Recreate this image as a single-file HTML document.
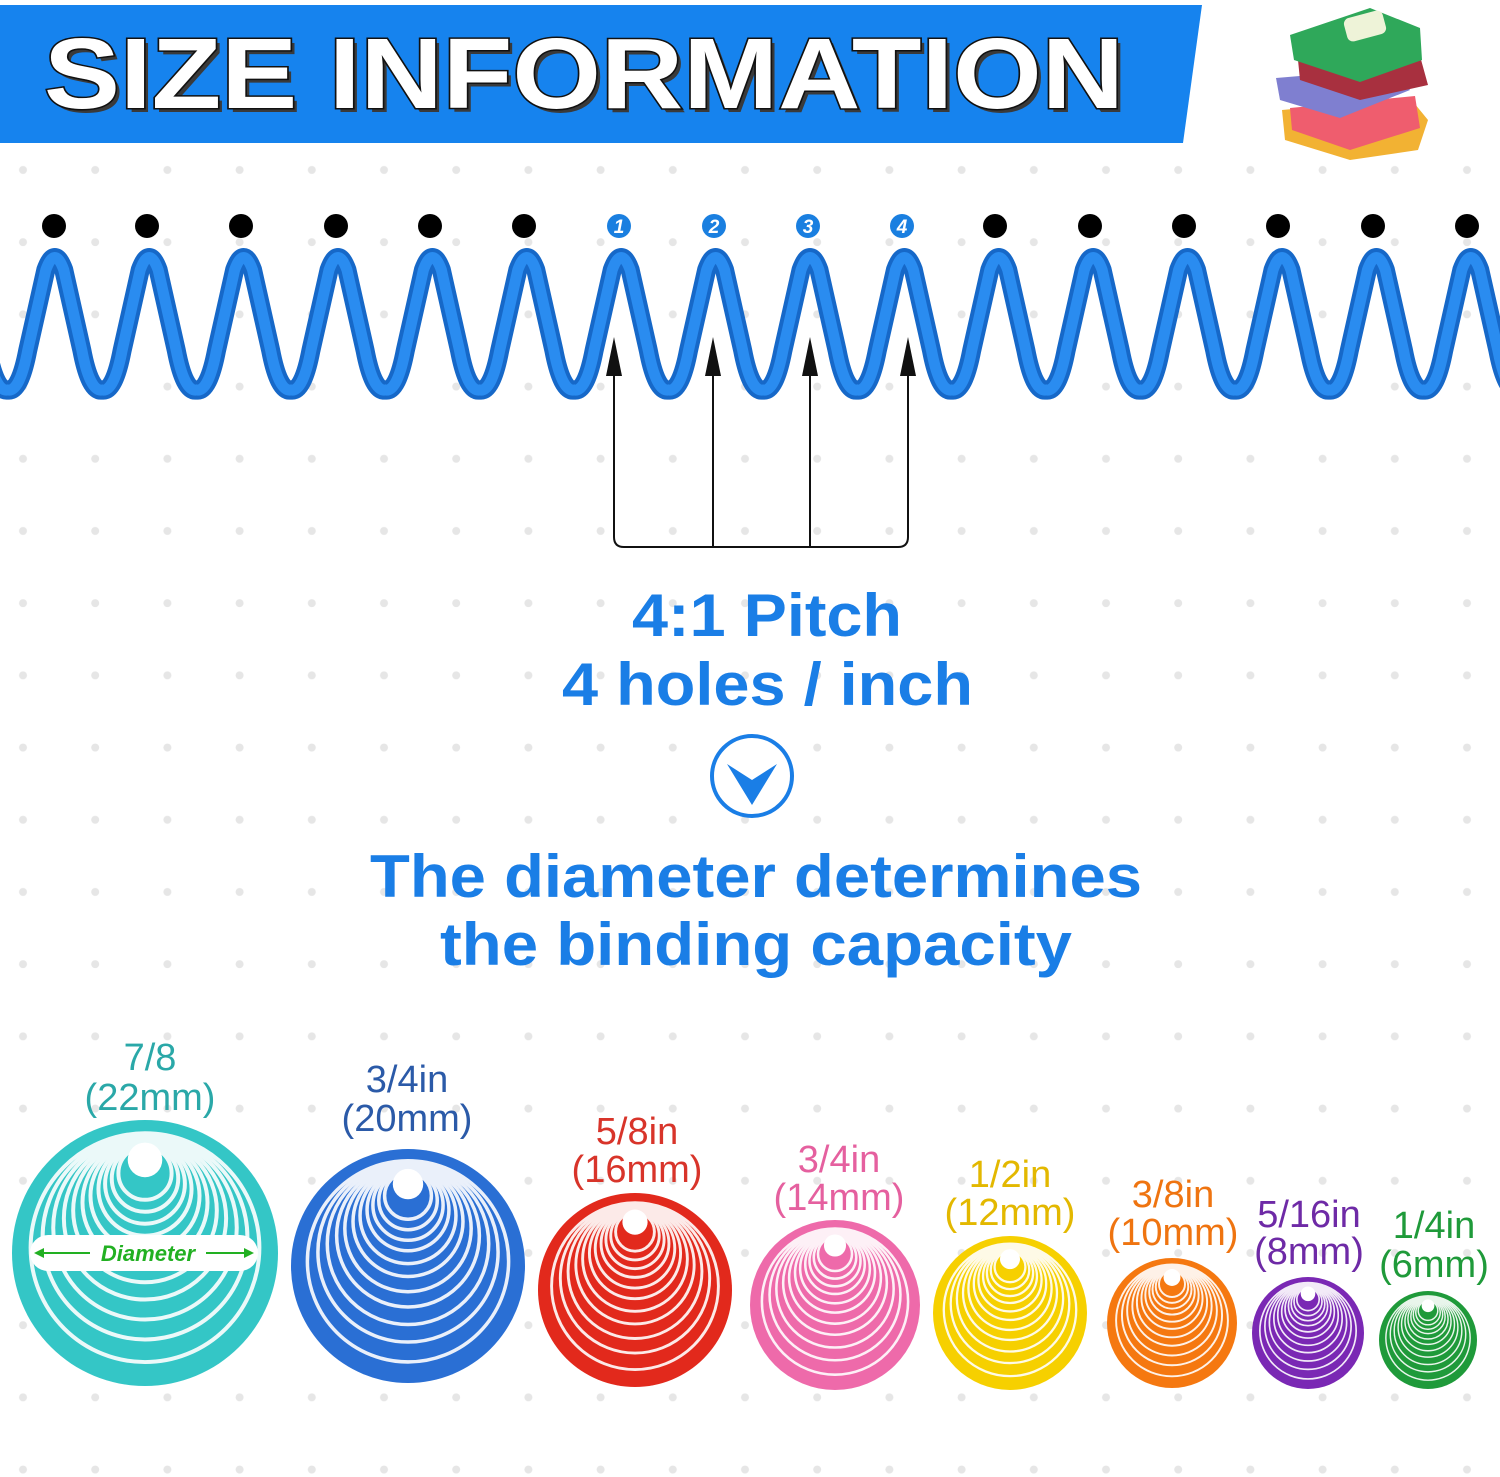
<!DOCTYPE html>
<html><head><meta charset="utf-8"><style>
html,body{margin:0;padding:0;background:#fff}
svg{display:block}
text{font-family:"Liberation Sans",Arial,sans-serif}
</style></head><body>
<svg width="1500" height="1477" viewBox="0 0 1500 1477" xmlns="http://www.w3.org/2000/svg">
<defs>
<pattern id="dots" patternUnits="userSpaceOnUse" x="-13" y="134" width="72.2" height="72.2">
<circle cx="36" cy="36" r="4" fill="#e6e6e6"/>
</pattern>
<g id="ring">
<circle r="100"/>
<g fill="none" stroke="#fff" stroke-width="3" opacity="0.9">
<circle cx="0" cy="-4" r="86"/>
<circle cx="0" cy="-12" r="77"/>
<circle cx="0" cy="-19" r="69"/>
<circle cx="0" cy="-26" r="61"/>
<circle cx="0" cy="-32" r="54"/>
<circle cx="0" cy="-38" r="47"/>
<circle cx="0" cy="-43" r="41"/>
<circle cx="0" cy="-48" r="35"/>
<circle cx="0" cy="-52" r="30"/>
<circle cx="0" cy="-56" r="25"/>
<circle cx="0" cy="-60" r="20"/>
</g>
<circle cx="0" cy="-70" r="13" fill="#fff"/>
</g>
</defs>
<rect width="1500" height="1477" fill="#fff"/>
<rect x="0" y="150" width="1500" height="1327" fill="url(#dots)"/>

<!-- header -->
<polygon points="0,5 1202,5 1183,143 0,143" fill="#1683ee"/>
<text x="48" y="112" font-size="100" font-weight="bold" fill="#3a3a3a" textLength="1080" lengthAdjust="spacingAndGlyphs">SIZE INFORMATION</text>
<text x="44" y="108" font-size="100" font-weight="bold" fill="#fff" stroke="#111" stroke-width="3" paint-order="stroke" textLength="1080" lengthAdjust="spacingAndGlyphs">SIZE INFORMATION</text>

<!-- books -->
<g>
<path d="M1282,110 L1410,98 L1428,120 L1418,150 L1350,160 L1285,140 Z" fill="#f2b233"/>
<path d="M1290,108 L1415,96 L1420,128 L1350,150 L1292,130 Z" fill="#ef5d6e"/>
<path d="M1276,78 L1395,68 L1410,90 L1340,118 L1280,100 Z" fill="#7f7fd0"/>
<path d="M1298,60 L1420,56 L1428,85 L1360,100 L1300,80 Z" fill="#a8303f"/>
<path d="M1290,35 L1370,8 L1420,28 L1422,60 L1360,82 L1294,60 Z" fill="#2fa85a"/>
<rect x="1345" y="14" width="40" height="24" rx="6" fill="#eef3d8" transform="rotate(-15 1365 26)"/>
</g>

<!-- dots & numbers -->
<g fill="#000">
<circle cx="54" cy="226" r="12"/><circle cx="147" cy="226" r="12"/><circle cx="241" cy="226" r="12"/>
<circle cx="336" cy="226" r="12"/><circle cx="430" cy="226" r="12"/><circle cx="524" cy="226" r="12"/>
<circle cx="995" cy="226" r="12"/><circle cx="1090" cy="226" r="12"/><circle cx="1184" cy="226" r="12"/>
<circle cx="1278" cy="226" r="12"/><circle cx="1373" cy="226" r="12"/><circle cx="1467" cy="226" r="12"/>
</g>
<g fill="#1a7fe0">
<circle cx="619" cy="226" r="12"/><circle cx="714" cy="226" r="12"/><circle cx="808" cy="226" r="12"/><circle cx="902" cy="226" r="12"/>
</g>
<g fill="#fff" font-size="19" font-weight="bold" font-style="italic" text-anchor="middle">
<text x="619" y="233">1</text><text x="714" y="233">2</text><text x="808" y="233">3</text><text x="902" y="233">4</text>
</g>

<!-- coil -->
<g fill="none" stroke-linecap="round">
<path d="M-86.6,390 q12,2 20,-40 l18,-80 q9,-25 18,0 l18,80 q8,42 20.4,40 q12,2 20,-40 l18,-80 q9,-25 18,0 l18,80 q8,42 20.4,40 q12,2 20,-40 l18,-80 q9,-25 18,0 l18,80 q8,42 20.4,40 q12,2 20,-40 l18,-80 q9,-25 18,0 l18,80 q8,42 20.4,40 q12,2 20,-40 l18,-80 q9,-25 18,0 l18,80 q8,42 20.4,40 q12,2 20,-40 l18,-80 q9,-25 18,0 l18,80 q8,42 20.4,40 q12,2 20,-40 l18,-80 q9,-25 18,0 l18,80 q8,42 20.4,40 q12,2 20,-40 l18,-80 q9,-25 18,0 l18,80 q8,42 20.4,40 q12,2 20,-40 l18,-80 q9,-25 18,0 l18,80 q8,42 20.4,40 q12,2 20,-40 l18,-80 q9,-25 18,0 l18,80 q8,42 20.4,40 q12,2 20,-40 l18,-80 q9,-25 18,0 l18,80 q8,42 20.4,40 q12,2 20,-40 l18,-80 q9,-25 18,0 l18,80 q8,42 20.4,40 q12,2 20,-40 l18,-80 q9,-25 18,0 l18,80 q8,42 20.4,40 q12,2 20,-40 l18,-80 q9,-25 18,0 l18,80 q8,42 20.4,40 q12,2 20,-40 l18,-80 q9,-25 18,0 l18,80 q8,42 20.4,40 q12,2 20,-40 l18,-80 q9,-25 18,0 l18,80 q8,42 20.4,40 q12,2 20,-40 l18,-80 q9,-25 18,0 l18,80 q8,42 20.4,40" stroke="#1668c8" stroke-width="19"/>
<path d="M-86.6,390 q12,2 20,-40 l18,-80 q9,-25 18,0 l18,80 q8,42 20.4,40 q12,2 20,-40 l18,-80 q9,-25 18,0 l18,80 q8,42 20.4,40 q12,2 20,-40 l18,-80 q9,-25 18,0 l18,80 q8,42 20.4,40 q12,2 20,-40 l18,-80 q9,-25 18,0 l18,80 q8,42 20.4,40 q12,2 20,-40 l18,-80 q9,-25 18,0 l18,80 q8,42 20.4,40 q12,2 20,-40 l18,-80 q9,-25 18,0 l18,80 q8,42 20.4,40 q12,2 20,-40 l18,-80 q9,-25 18,0 l18,80 q8,42 20.4,40 q12,2 20,-40 l18,-80 q9,-25 18,0 l18,80 q8,42 20.4,40 q12,2 20,-40 l18,-80 q9,-25 18,0 l18,80 q8,42 20.4,40 q12,2 20,-40 l18,-80 q9,-25 18,0 l18,80 q8,42 20.4,40 q12,2 20,-40 l18,-80 q9,-25 18,0 l18,80 q8,42 20.4,40 q12,2 20,-40 l18,-80 q9,-25 18,0 l18,80 q8,42 20.4,40 q12,2 20,-40 l18,-80 q9,-25 18,0 l18,80 q8,42 20.4,40 q12,2 20,-40 l18,-80 q9,-25 18,0 l18,80 q8,42 20.4,40 q12,2 20,-40 l18,-80 q9,-25 18,0 l18,80 q8,42 20.4,40 q12,2 20,-40 l18,-80 q9,-25 18,0 l18,80 q8,42 20.4,40 q12,2 20,-40 l18,-80 q9,-25 18,0 l18,80 q8,42 20.4,40" stroke="#2a8cf0" stroke-width="11"/>
</g>

<!-- arrows -->
<g stroke="#111" stroke-width="2" fill="none">
<path d="M614,360 V537 Q614,547 624,547 H898 Q908,547 908,537 V360"/>
<line x1="713" y1="360" x2="713" y2="547"/>
<line x1="810" y1="360" x2="810" y2="547"/>
</g>
<g fill="#111">
<polygon points="614,337 606,376 622,376"/><polygon points="713,337 705,376 721,376"/>
<polygon points="810,337 802,376 818,376"/><polygon points="908,337 900,376 916,376"/>
</g>

<!-- middle text -->
<g fill="#1a7ee6" font-weight="bold">
<text x="632" y="636" font-size="60" textLength="270" lengthAdjust="spacingAndGlyphs">4:1 Pitch</text>
<text x="562" y="705" font-size="60" textLength="411" lengthAdjust="spacingAndGlyphs">4 holes / inch</text>
<text x="370" y="897" font-size="60" textLength="772" lengthAdjust="spacingAndGlyphs">The diameter determines</text>
<text x="440" y="965" font-size="60" textLength="632" lengthAdjust="spacingAndGlyphs">the binding capacity</text>
</g>
<circle cx="752" cy="776" r="40" fill="#fff" stroke="#1a7ee6" stroke-width="4"/>
<polygon points="727,764 752,805 777,764 752,780" fill="#1a7ee6"/>

<!-- rings -->
<use href="#ring" fill="#34c6c6" transform="translate(145,1253) scale(1.33)"/>
<use href="#ring" fill="#2a6fd4" transform="translate(408,1266) scale(1.17)"/>
<use href="#ring" fill="#e2291c" transform="translate(635,1290) scale(0.97)"/>
<use href="#ring" fill="#ee6aaa" transform="translate(835,1305) scale(0.85)"/>
<use href="#ring" fill="#f6d000" transform="translate(1010,1313) scale(0.77)"/>
<use href="#ring" fill="#f57810" transform="translate(1172,1323) scale(0.65)"/>
<use href="#ring" fill="#7a28b4" transform="translate(1308,1333) scale(0.56)"/>
<use href="#ring" fill="#1f9a3a" transform="translate(1428,1340) scale(0.49)"/>

<rect x="30" y="1235" width="228" height="36" rx="18" fill="#fff"/>
<g stroke="#22b022" stroke-width="2"><line x1="40" y1="1253" x2="90" y2="1253"/><line x1="206" y1="1253" x2="248" y2="1253"/></g>
<polygon points="34,1253 44,1248 44,1258" fill="#22b022"/><polygon points="254,1253 244,1248 244,1258" fill="#22b022"/>
<text x="148" y="1261" font-size="22" font-weight="bold" font-style="italic" fill="#22b022" text-anchor="middle">Diameter</text>

<g font-size="38" text-anchor="middle">
<text x="150" y="1070" fill="#2aa8a8">7/8</text><text x="150" y="1110" fill="#2aa8a8">(22mm)</text>
<text x="407" y="1092" fill="#2b5aa8">3/4in</text><text x="407" y="1131" fill="#2b5aa8">(20mm)</text>
<text x="637" y="1144" fill="#d8342a">5/8in</text><text x="637" y="1182" fill="#d8342a">(16mm)</text>
<text x="839" y="1172" fill="#e5609f">3/4in</text><text x="839" y="1210" fill="#e5609f">(14mm)</text>
<text x="1010" y="1187" fill="#e3b800">1/2in</text><text x="1010" y="1225" fill="#e3b800">(12mm)</text>
<text x="1173" y="1207" fill="#ef7410">3/8in</text><text x="1173" y="1245" fill="#ef7410">(10mm)</text>
<text x="1309" y="1227" fill="#6e2aa6">5/16in</text><text x="1309" y="1264" fill="#6e2aa6">(8mm)</text>
<text x="1434" y="1238" fill="#1f9a3a">1/4in</text><text x="1434" y="1277" fill="#1f9a3a">(6mm)</text>
</g>
</svg>
</body></html>
